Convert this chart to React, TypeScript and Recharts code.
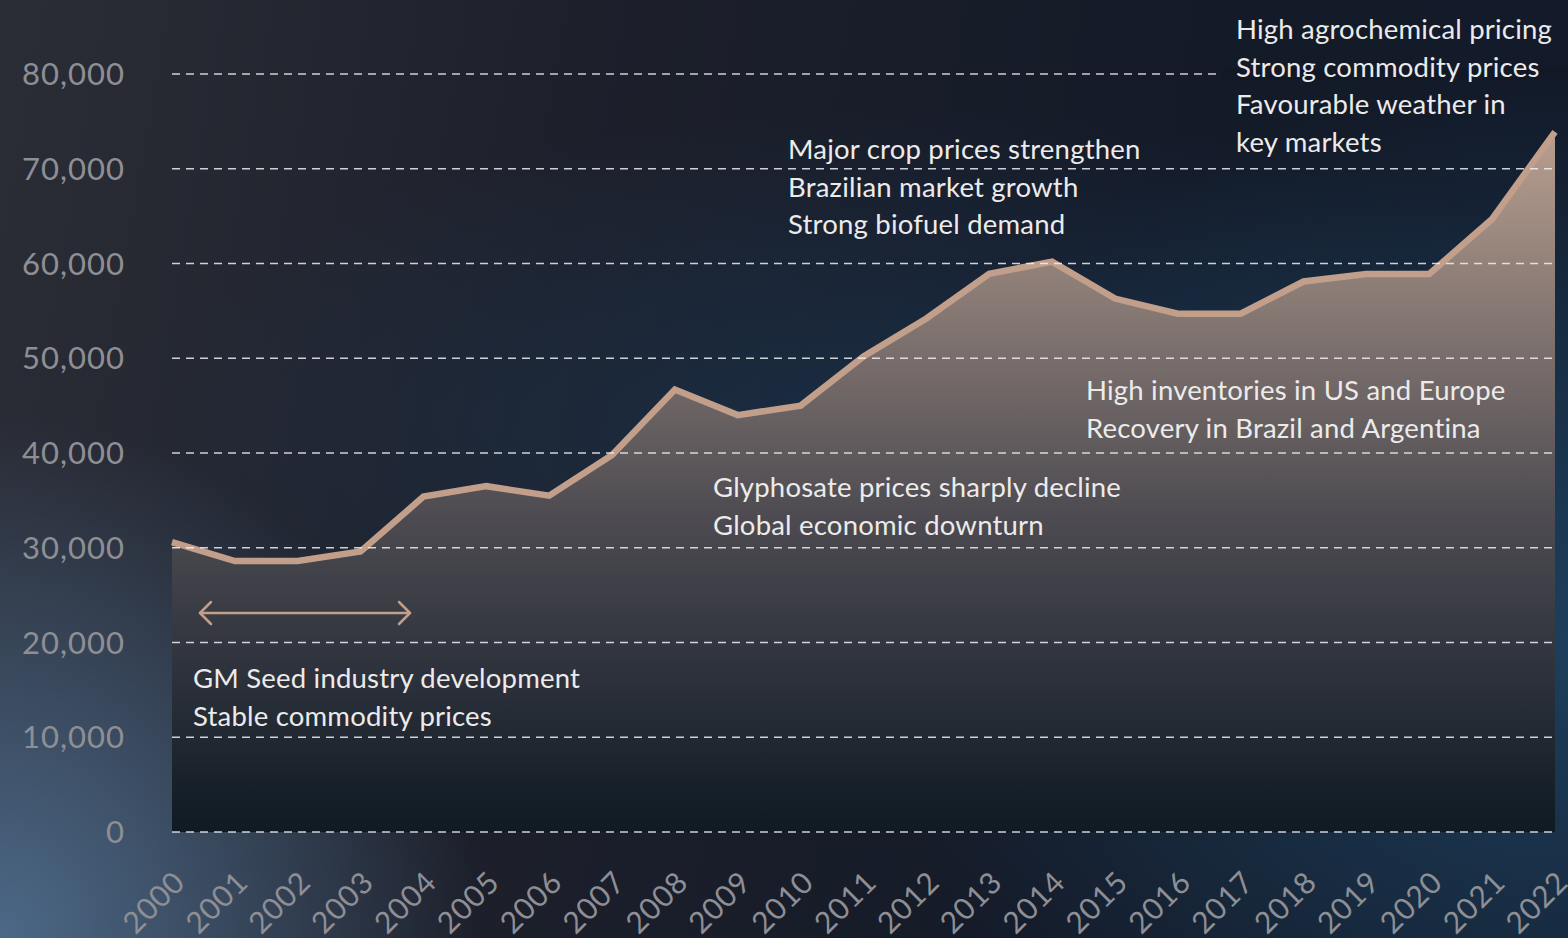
import React from "react";
import { AreaChart, Area, XAxis, YAxis, CartesianGrid } from "recharts";

// Revenue trend, 2000-2022
const YEARS = [
  "2000", "2001", "2002", "2003", "2004", "2005", "2006", "2007", "2008", "2009", "2010", "2011",
  "2012", "2013", "2014", "2015", "2016", "2017", "2018", "2019", "2020", "2021", "2022",
];
const VALUES = [
  30600, 28600, 28600, 29600, 35400, 36500, 35500, 39800, 46700, 44000, 45000, 50200,
  54200, 58900, 60200, 56300, 54700, 54700, 58100, 58900, 58900, 64700, 73900,
];
const Y_TICKS = [0, 10000, 20000, 30000, 40000, 50000, 60000, 70000, 80000];

const NOTE_GM = ["GM Seed industry development", "Stable commodity prices"];
const NOTE_GLYPHOSATE = ["Glyphosate prices sharply decline", "Global economic downturn"];
const NOTE_CROPS = ["Major crop prices strengthen", "Brazilian market growth", "Strong biofuel demand"];
const NOTE_INVENTORIES = ["High inventories in US and Europe", "Recovery in Brazil and Argentina"];
const NOTE_AGROCHEM = ["High agrochemical pricing", "Strong commodity prices", "Favourable weather in", "key markets"];

const W = 1568;
const H = 938;
const FONT = "Lato, 'Noto Sans', sans-serif";
const TAN = "#c29f8a";
const AXIS_GREY = "#8e8f95";

const data = YEARS.map((year, i) => ({ year, value: VALUES[i] }));

const MARGIN = { top: 74, right: 13, bottom: 0, left: 0 };

function YearTick({ x, y, payload, fill }: { x?: number; y?: number; payload?: { value: string }; fill?: string }) {
  return (
    <g transform={`translate(${(x || 0) + 15},${(y || 0) + 44})`}>
      <text textAnchor="end" transform="rotate(-45)" fontSize={30} letterSpacing={0.8} fill={fill} fontFamily={FONT}>
        {payload?.value}
      </text>
    </g>
  );
}

function Note({ x, y, lines }: { x: number; y: number; lines: string[] }) {
  return (
    <text x={x} y={y} fill="#ecebea" fontSize={27.5} fontFamily={FONT} letterSpacing={0.2}>
      {lines.map((l, i) => (
        <tspan key={i} x={x} dy={i === 0 ? 0 : 37.5}>
          {l}
        </tspan>
      ))}
    </text>
  );
}

// ghost=true keeps the same scales/ticks but paints no labels (used for the grid overlay)
function Axes({ ghost }: { ghost: boolean }) {
  const fill = ghost ? "transparent" : AXIS_GREY;
  return (
    <>
      <XAxis
        dataKey="year"
        height={106}
        interval={0}
        axisLine={false}
        tickLine={false}
        tick={<YearTick fill={fill} />}
      />
      <YAxis
        width={172}
        domain={[0, 80000]}
        ticks={Y_TICKS}
        interval={0}
        axisLine={false}
        tickLine={false}
        tickMargin={41}
        tick={{ fontSize: 31, fill, fontFamily: FONT, letterSpacing: 1 }}
        tickFormatter={(v) => Number(v).toLocaleString("en-US")}
      />
    </>
  );
}

export default function App() {
  return (
    <div
      style={{
        position: "absolute",
        left: 0,
        top: 0,
        width: W,
        height: H,
        overflow: "hidden",
        background: [
          "radial-gradient(ellipse 480px 520px at 0px 938px, rgba(78,108,140,0.95), rgba(78,108,140,0) 100%)",
          "radial-gradient(ellipse 700px 560px at 1568px 640px, rgba(32,72,104,0.8), rgba(32,72,104,0) 100%)",
          "radial-gradient(ellipse 800px 320px at 900px 430px, rgba(28,58,88,0.55), rgba(28,58,88,0) 100%)",
          "linear-gradient(100deg, #2b2d36 0%, #1d202b 35%, #141a28 70%, #121a2a 100%)",
        ].join(", "),
      }}
    >
      {/* series */}
      <div style={{ position: "absolute", left: 0, top: 0 }}>
        <AreaChart width={W} height={H} data={data} margin={MARGIN}>
          <defs>
            <linearGradient id="areaFill" x1="0" y1="0" x2="0" y2="1">
              <stop offset="0%" stopColor="#b89f8f" />
              <stop offset="30%" stopColor="#7d716e" />
              <stop offset="55%" stopColor="#4d4b51" />
              <stop offset="78%" stopColor="#2c313b" />
              <stop offset="100%" stopColor="#0f1a23" />
            </linearGradient>
          </defs>
          <Axes ghost={false} />
          <Area
            type="linear"
            dataKey="value"
            stroke={TAN}
            strokeWidth={6.5}
            fill="url(#areaFill)"
            fillOpacity={1}
            dot={false}
            activeDot={false}
            isAnimationActive={false}
          />
        </AreaChart>
      </div>

      {/* dashed grid drawn over the area (same axes, invisible series) */}
      <div style={{ position: "absolute", left: 0, top: 0, pointerEvents: "none" }}>
        <AreaChart width={W} height={H} data={data} margin={MARGIN}>
          <Axes ghost />
          <CartesianGrid vertical={false} stroke="rgba(240,240,244,0.85)" strokeDasharray="8 6" strokeWidth={1.6} />
          <Area
            type="linear"
            dataKey="value"
            stroke="none"
            fill="none"
            dot={false}
            activeDot={false}
            isAnimationActive={false}
          />
        </AreaChart>
      </div>

      {/* annotations */}
      <svg width={W} height={H} style={{ position: "absolute", left: 0, top: 0, pointerEvents: "none" }}>
        <rect x={1222} y={68} width={346} height={12} fill="#121826" />
        <g stroke={TAN} strokeWidth={2.5} fill="none" strokeLinecap="round" strokeLinejoin="round">
          <line x1={200} y1={613} x2={410} y2={613} />
          <polyline points="211,602 200,613 211,624" />
          <polyline points="399,602 410,613 399,624" />
        </g>
        <Note x={193} y={688} lines={NOTE_GM} />
        <Note x={713} y={497} lines={NOTE_GLYPHOSATE} />
        <Note x={788} y={159} lines={NOTE_CROPS} />
        <Note x={1086} y={400} lines={NOTE_INVENTORIES} />
        <Note x={1236} y={39} lines={NOTE_AGROCHEM} />
      </svg>
    </div>
  );
}
